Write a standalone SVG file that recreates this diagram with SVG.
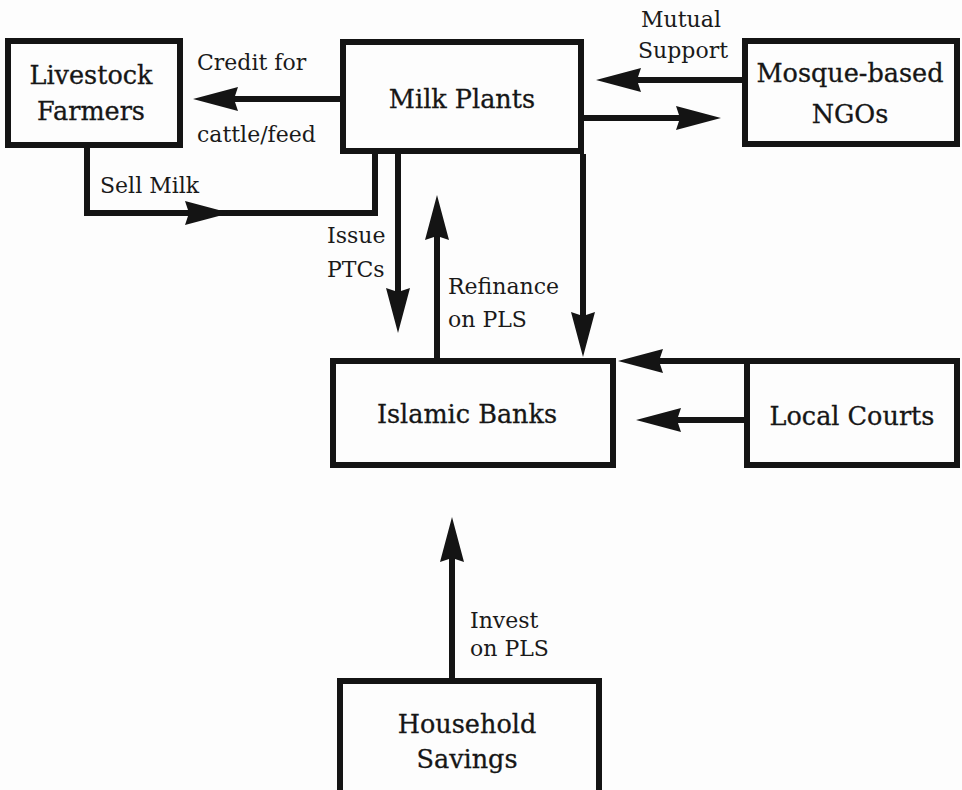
<svg xmlns="http://www.w3.org/2000/svg" xmlns:xlink="http://www.w3.org/1999/xlink" width="962" height="790" viewBox="0 0 962 790">
  <style>
    .box { fill: none; stroke: #141414; stroke-width: 6; stroke-linejoin: miter; }
    .node { font-family: "DejaVu Serif", "Liberation Serif", serif; font-size: 25.5px; fill: #161616; stroke: #161616; stroke-width: 0.3; text-anchor: middle; }
    .lbl { font-family: "DejaVu Serif", "Liberation Serif", serif; font-size: 22px; fill: #1a1a1a; }
    .wire { fill: none; stroke: #141414; stroke-width: 6; stroke-linejoin: miter; stroke-linecap: butt; }
  </style>
  <defs>
    <!-- filled arrowhead, tip at origin, pointing along +x -->
    <path id="head" d="M0,0 L-45,-12 L-41,0 L-45,12 Z" fill="#141414"/>
  </defs>
  <rect width="962" height="790" fill="#fdfdfd"/>

  <g id="connectors">
    <!-- Milk Plants -> Livestock Farmers : credit -->
    <path class="wire" d="M340,99 H205"/>
    <use xlink:href="#head" transform="translate(193,99) rotate(180)"/>
    <!-- Livestock Farmers -> Milk Plants : sell milk -->
    <path class="wire" d="M87,148 V213 H375 V154"/>
    <use xlink:href="#head" transform="translate(230,213)"/>
    <!-- Milk Plants -> Islamic Banks : issue PTCs -->
    <path class="wire" d="M398,154 V320"/>
    <use xlink:href="#head" transform="translate(398,333) rotate(90)"/>
    <!-- Islamic Banks -> Milk Plants : refinance -->
    <path class="wire" d="M437,360 V208"/>
    <use xlink:href="#head" transform="translate(437,195) rotate(-90)"/>
    <!-- Milk Plants right side down to Islamic Banks -->
    <path class="wire" d="M583,154 V345"/>
    <use xlink:href="#head" transform="translate(583,357) rotate(90)"/>
    <!-- Mosque-based NGOs <-> Milk Plants -->
    <path class="wire" d="M742,80 H608"/>
    <use xlink:href="#head" transform="translate(596,80) rotate(180)"/>
    <path class="wire" d="M584,118 H708"/>
    <use xlink:href="#head" transform="translate(721,118)"/>
    <!-- Local Courts -> Islamic Banks -->
    <path class="wire" d="M746,361 H630"/>
    <use xlink:href="#head" transform="translate(618,361) rotate(180)"/>
    <path class="wire" d="M746,420 H648"/>
    <use xlink:href="#head" transform="translate(636,420) rotate(180)"/>
    <!-- Household Savings -> Islamic Banks -->
    <path class="wire" d="M452,680 V530"/>
    <use xlink:href="#head" transform="translate(452,517) rotate(-90)"/>
  </g>

  <g id="edge-labels" class="lbl">
    <text x="197" y="70">Credit for</text>
    <text x="197" y="142">cattle/feed</text>
    <text x="100" y="193">Sell Milk</text>
    <text x="327" y="243">Issue</text>
    <text x="327" y="277">PTCs</text>
    <text x="448" y="294">Refinance</text>
    <text x="448" y="327">on PLS</text>
    <text x="681" y="27" text-anchor="middle">Mutual</text>
    <text x="683" y="58" text-anchor="middle">Support</text>
    <text x="470" y="628">Invest</text>
    <text x="470" y="656">on PLS</text>
  </g>

  <g id="livestock-farmers">
    <rect class="box" x="8" y="41" width="172" height="104"/>
    <text class="node" x="91" y="84">Livestock</text>
    <text class="node" x="91" y="120">Farmers</text>
  </g>

  <g id="milk-plants">
    <rect class="box" x="343" y="42" width="238" height="109"/>
    <text class="node" x="462" y="108">Milk Plants</text>
  </g>

  <g id="mosque-ngos">
    <rect class="box" x="745" y="41" width="212" height="103"/>
    <text class="node" x="850" y="82">Mosque-based</text>
    <text class="node" x="850" y="123">NGOs</text>
  </g>

  <g id="islamic-banks">
    <rect class="box" x="333" y="361" width="280" height="104"/>
    <text class="node" x="467" y="423">Islamic Banks</text>
  </g>

  <g id="local-courts">
    <rect class="box" x="747" y="361" width="210" height="104"/>
    <text class="node" x="852" y="425">Local Courts</text>
  </g>

  <g id="household-savings">
    <rect class="box" x="340" y="681" width="259" height="130"/>
    <text class="node" x="467" y="733">Household</text>
    <text class="node" x="467" y="768">Savings</text>
  </g>
</svg>
